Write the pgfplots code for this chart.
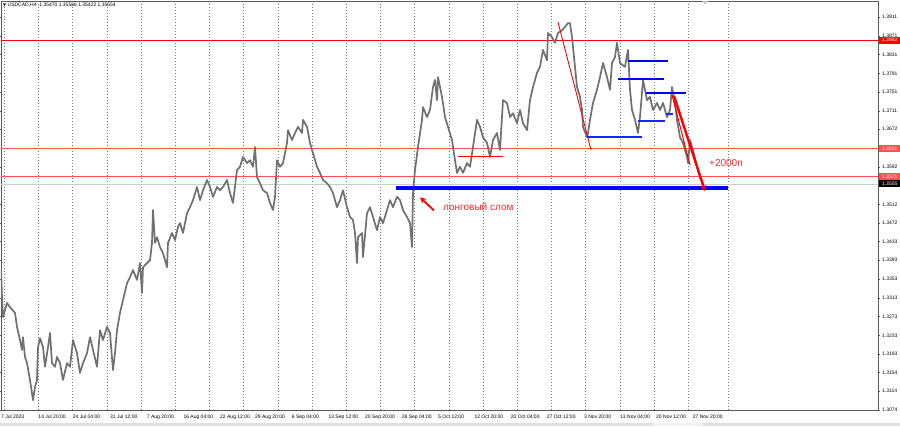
\documentclass[border=0pt]{standalone}
\usepackage{fontspec}
\setmainfont{Liberation Sans}
\newfontfamily\dejavu{DejaVu Sans}
\usepackage{pgfplots}
\usetikzlibrary{arrows.meta}
\pgfplotsset{compat=1.18}
\definecolor{mtgray}{RGB}{112,112,112}
\definecolor{lred}{RGB}{255,80,80}
\definecolor{mtblue}{RGB}{0,0,255}
\definecolor{tblue}{RGB}{20,40,255}
\begin{document}
\begin{tikzpicture}[x=1pt,y=1pt]
\useasboundingbox (0,0) rectangle (900,-426);
\fill[gray!25] (0,-422.5) rectangle (900,-426);
\fill[gray!10] (653,-422.5) rectangle (703,-426);
\begin{axis}[
  at={(1pt,-1pt)}, anchor=north west,
  scale only axis, width=877pt, height=409pt,
  xmin=1, xmax=878, ymin=1.3074, ymax=1.39451,
  axis line style={black!65, line width=0.5pt},
  clip=true,
  xtick={1,38.3,72.7,110,146.7,183.3,220,255,291.7,328.3,365,401.7,438,474.3,510.7,546.7,584,620,656,692.7},
  xticklabels={7 Jul 2023,14 Jul 20:00,24 Jul 04:00,31 Jul 12:00,7 Aug 20:00,16 Aug 04:00,22 Aug 12:00,29 Aug 20:00,6 Sep 04:00,13 Sep 12:00,20 Sep 20:00,28 Sep 04:00,5 Oct 12:00,12 Oct 20:00,20 Oct 04:00,27 Oct 12:00,3 Nov 20:00,13 Nov 04:00,20 Nov 12:00,27 Nov 20:00},
  xticklabel style={anchor=north west, font=\fontsize{5}{6}\selectfont, inner sep=0pt, yshift=-3pt},
  x tick style={draw=none},
  extra x ticks={4.3,38.5,72.7,106.9,141.1,175.3,209.5,243.7,277.9,312.1,346.3,380.5,414.7,448.9,483.1,517.3,551.5,585.7,619.9,654.1,688.3,728.7},
  extra x tick labels={},
  extra x tick style={grid=major, major grid style={dash pattern=on 0.8pt off 2.2pt, black!55, line width=0.45pt}, tick style={draw=none}},
  ytick={1.3911,1.3871,1.3831,1.3791,1.3751,1.3711,1.3672,1.3592,1.3512,1.3472,1.3433,1.3393,1.3353,1.3313,1.3273,1.3233,1.3193,1.3154,1.3114,1.3074},
  yticklabel pos=right,
  yticklabel style={font=\fontsize{5}{6}\selectfont, inner sep=0pt, xshift=2pt},
  /pgf/number format/.cd, fixed, fixed zerofill, precision=4, assume math mode=true,
  /pgfplots/.cd,
  y tick style={black!65, line width=0.4pt},
  tick align=outside, major tick length=2pt,
]
% horizontal levels
\addplot[red, line width=1pt] coordinates {(1,1.3862) (878,1.3862)};
\addplot[lred, line width=1.1pt] coordinates {(1,1.3631) (878,1.3631)};
\addplot[lred, line width=1.1pt] coordinates {(1,1.3571) (878,1.3571)};
\addplot[gray!40, line width=0.8pt] coordinates {(1,1.35554) (878,1.35554)};
% price (H4 bars traced)
\addplot[mtgray, line width=1.7pt, line join=round] coordinates {
(1,1.3376) (2,1.3315) (3,1.3272) (7,1.3302) (10,1.3293) (15,1.3281) (17,1.3251) (20,1.3223) (22,1.3202) (23,1.3229) (25,1.3187) (27,1.3174) (30,1.3138) (32,1.3110) (33,1.3095) (35,1.3123) (37,1.3138) (38,1.3208) (40,1.3227) (43,1.3208) (45,1.3166) (48,1.3208) (50,1.3238) (52,1.3174) (55,1.3166) (57,1.3187) (60,1.3174) (63,1.3138) (67,1.3174) (70,1.3166) (73,1.3223) (77,1.3195) (80,1.3153) (83,1.3174) (87,1.3195) (90,1.3229) (93,1.3202) (97,1.3166) (100,1.3244) (103,1.3223) (107,1.3251) (110,1.3238) (113,1.3159) (115,1.3195) (117,1.3244) (120,1.3281) (123,1.3308) (127,1.3344) (130,1.3357) (133,1.3372) (137,1.3351) (140,1.3387) (142,1.3323) (143,1.3378) (147,1.3387) (150,1.3393) (152,1.3430) (153,1.3500) (155,1.3430) (157,1.3442) (160,1.3421) (163,1.3408) (167,1.3378) (168,1.3430) (172,1.3451) (175,1.3436) (178,1.3464)
(180,1.3472) (183,1.3451) (187,1.3493) (190,1.3506) (193,1.3521) (197,1.3549) (200,1.3521) (203,1.3542) (207,1.3564) (210,1.3549) (213,1.3528) (217,1.3549) (220,1.3542) (223,1.3549) (227,1.3564) (230,1.3536) (233,1.3515) (237,1.3585) (240,1.3592) (243,1.3613) (247,1.3600) (250,1.3606) (253,1.3592) (255,1.3634) (257,1.3570) (260,1.3557) (263,1.3542) (267,1.3536) (270,1.3515) (273,1.3500) (275,1.3528) (277,1.3606) (280,1.3592) (283,1.3600) (287,1.3643) (288,1.3670) (292,1.3649) (295,1.3664) (298,1.3677) (302,1.3664) (303,1.3692) (307,1.3677) (310,1.3643) (313,1.3621) (317,1.3592) (320,1.3579) (323,1.3564) (327,1.3557) (330,1.3549) (333,1.3536) (337,1.3506) (340,1.3521) (343,1.3542) (347,1.3506) (350,1.3485) (353,1.3479) (355,1.3451) (357,1.3387) (358,1.3442) (362,1.3451) (363,1.3400) (367,1.3493) (370,1.3506)
(373,1.3485) (377,1.3457) (380,1.3485) (383,1.3472) (387,1.3500) (390,1.3521) (393,1.3506) (397,1.3528) (400,1.3521) (403,1.3500) (407,1.3485) (410,1.3472) (412,1.3421) (413,1.3536) (415,1.3585) (418,1.3634) (422,1.3692) (423,1.3719) (427,1.3698) (430,1.3713) (433,1.3762) (435,1.3777) (437,1.3734) (438,1.3783) (442,1.3741) (445,1.3698) (448,1.3677) (452,1.3649) (455,1.3606) (457,1.3579) (460,1.3592) (463,1.3579) (467,1.3600) (470,1.3592) (473,1.3634) (477,1.3692) (480,1.3677) (483,1.3655) (487,1.3643) (490,1.3613) (493,1.3649) (497,1.3664) (500,1.3628) (503,1.3734) (507,1.3728) (510,1.3698) (513,1.3706) (517,1.3685) (520,1.3713) (523,1.3685) (527,1.3670) (530,1.3734) (533,1.3762) (537,1.3792) (540,1.3805)
(543,1.3841) (547,1.3819) (548,1.3877) (552,1.3868) (555,1.3856) (558,1.3877) (562,1.3883) (565,1.3890) (568,1.3898) (570,1.3898) (572,1.3868) (573,1.3847) (577,1.3762) (580,1.3741) (582,1.3713) (583,1.3677) (587,1.3655) (588,1.3664) (590,1.3692) (593,1.3728) (597,1.3756) (600,1.3783) (603,1.3813) (607,1.3783) (610,1.3756) (612,1.3813) (615,1.3826) (617,1.3856) (620,1.3813) (625,1.3805) (628,1.3841) (630,1.3756) (632,1.3713) (635,1.3692) (638,1.3664) (640,1.3698) (643,1.3777) (647,1.3734) (650,1.3741) (653,1.3713) (657,1.3728) (660,1.3713) (663,1.3728) (667,1.3698) (670,1.3713) (672,1.3762) (675,1.3728) (677,1.3692) (680,1.3655) (683,1.3643) (687,1.3613) (688,1.3600) (690,1.3649) (693,1.3628) (697,1.3592) (700,1.3570) (703,1.3557)
};
% annotations: lines
\addplot[red, line width=0.9pt] coordinates {(458,1.3615) (503,1.3615)};
\addplot[red, line width=0.9pt] coordinates {(558,1.3900) (591,1.3628)};
\addplot[tblue, line width=1.5pt] coordinates {(587,1.3655) (642,1.3655)};
\addplot[mtblue, line width=2.2pt] coordinates {(628,1.3817) (668,1.3817)};
\addplot[mtblue, line width=2.2pt] coordinates {(618,1.3779) (664,1.3779)};
\addplot[mtblue, line width=2.8pt] coordinates {(646,1.3749) (686,1.3749)};
\addplot[tblue, line width=1.5pt] coordinates {(638,1.3689) (665,1.3689)};
\addplot[tblue, line width=1.5pt] coordinates {(666,1.3704) (673,1.3704)};
\addplot[mtblue, line width=4pt] coordinates {(396,1.3547) (728,1.3547)};
\addplot[red, line width=1pt] coordinates {(672,1.3745) (690,1.3596)};
\addplot[red, line width=2.4pt, -{Stealth[length=6pt,width=6pt]}] coordinates {(674,1.3743) (705,1.3540)};
\addplot[red, line width=1.8pt, -{Stealth[length=6pt,width=6pt]}] coordinates {(434,1.3499) (420,1.3527)};
\node[anchor=west, text=red!85!white, font=\fontsize{10}{12}\selectfont, inner sep=0pt] at (axis cs:443,1.3506) {лонговый слом};
\node[anchor=west, text=red!85!white, font=\fontsize{10}{12}\selectfont, inner sep=0pt] at (axis cs:709,1.3600) {+2000п};
\coordinate (r1) at (axis cs:878,1.3862);
\coordinate (r2) at (axis cs:878,1.3631);
\coordinate (r3) at (axis cs:878,1.3571);
\coordinate (r4) at (axis cs:878,1.35554);
\end{axis}
\foreach \c/\t/\col in {r1/1.3862/red, r2/1.3631/lred, r3/1.3571/lred, r4/1.3555/black}{
  \node[anchor=west, fill=\col, text=white, font=\fontsize{5}{6}\selectfont, inner xsep=1.5pt, inner ysep=1pt, minimum width=22pt, minimum height=7pt] at ([xshift=0.5pt]\c) {\t};
}
\node[anchor=west, font=\fontsize{5}{6}\selectfont, inner sep=0pt] at (3,-5) {{\dejavu\fontsize{4}{5}\selectfont ▼}\ USDCAD,H4\ \ 1.35470 1.35566 1.35422 1.35554};
\fill[gray!45] (702,-1) -- (708,-1) -- (705,-4.5) -- cycle;
\end{tikzpicture}
\end{document}
